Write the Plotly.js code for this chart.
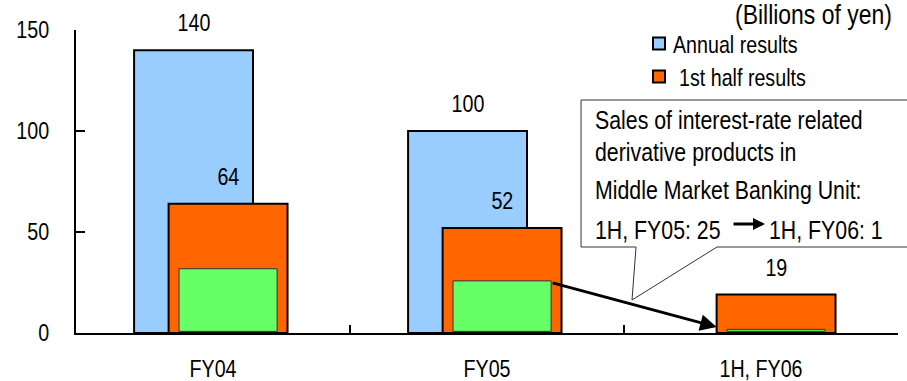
<!DOCTYPE html>
<html>
<head>
<meta charset="utf-8">
<script src="https://cdn.plot.ly/plotly-3.0.1.min.js"></script>
<style>
  html, body { margin: 0; padding: 0; background: #fff; }
  #chart { width: 907px; height: 381px; }
</style>
</head>
<body>
<div id="chart"></div>
<script>
// Fiscal periods on the category axis
const categories = ['FY04', 'FY05', '1H, FY06'];
// Billions of yen
const annualResults = [140, 100, null];
const firstHalfResults = [64, 52, 19];
// Interest-rate derivative sales, Middle Market Banking Unit
const derivativeSales = [31, 25, 1];
const yTickValues = [0, 50, 100, 150];

const FONT = "Arial, 'Liberation Sans', sans-serif";
// horizontal squeeze applied to every text, giving a narrow face
const NARROW = 0.82;

// bar geometry (category units)
const BAR_W = 0.434, ANNUAL_OFF = -0.288, HALF_OFF = -0.162;
const INNER_W = 0.358, INNER_OFF = -0.124;

// plot area in pixels, used to place free-floating notes
const L = 76, R = 898, T = 30, B = 333;
const px = x => (x - L) / (R - L);
const py = y => (B - y) / (B - T);

const traces = [
  {
    type: 'bar', name: 'Annual results', x: categories, y: annualResults,
    width: BAR_W, offset: ANNUAL_OFF, legend: 'legend',
    marker: { color: '#99CCFF', line: { color: '#000', width: 2 } },
    hoverinfo: 'skip'
  },
  {
    type: 'bar', name: '1st half results', x: categories, y: firstHalfResults,
    width: BAR_W, offset: HALF_OFF, legend: 'legend2',
    marker: { color: '#FF6600', line: { color: '#000', width: 2 } },
    hoverinfo: 'skip'
  },
  {
    type: 'bar', name: 'Derivative sales', x: categories, y: derivativeSales,
    base: 0.8, width: INNER_W, offset: INNER_OFF, showlegend: false,
    marker: { color: '#66FF66', line: { color: '#333', width: 1 } },
    hoverinfo: 'skip'
  }
];

const annotations = [];
categories.forEach((c, i) => {
  if (annualResults[i] != null) {
    annotations.push({
      xref: 'x', yref: 'y', x: i + ANNUAL_OFF + BAR_W / 2, y: annualResults[i],
      text: String(annualResults[i]), showarrow: false,
      yanchor: 'middle', yshift: 28, font: { family: FONT, size: 24, color: '#000' }
    });
  }
  annotations.push({
    xref: 'x', yref: 'y', x: i + HALF_OFF + BAR_W / 2, y: firstHalfResults[i],
    text: String(firstHalfResults[i]), showarrow: false,
    yanchor: 'middle', yshift: 27, font: { family: FONT, size: 24, color: '#000' }
  });
});

// arrow from the FY05 derivative bar to the 1H FY06 one
annotations.push({
  xref: 'x', yref: 'y', x: 2 + HALF_OFF, y: derivativeSales[2] + 2,
  axref: 'x', ayref: 'y', ax: 1 + INNER_OFF + INNER_W, ay: derivativeSales[1],
  text: '', showarrow: true, arrowhead: 2, arrowsize: 1.1, arrowwidth: 3,
  arrowcolor: '#000', standoff: 0
});

// unit note
annotations.push({
  xref: 'paper', yref: 'paper', x: px(733), y: py(15), xanchor: 'left', yanchor: 'middle',
  align: 'left', text: '(Billions of yen)', showarrow: false,
  font: { family: FONT, size: 28, color: '#000' }
});

// callout text
const noteLines = [
  ['Sales of interest-rate related', 593, 120],
  ['derivative products in', 593, 152],
  ['Middle Market Banking Unit:', 593, 190],
  ['1H, FY05: ' + derivativeSales[1], 593, 230],
  ['1H, FY06: ' + derivativeSales[2], 767, 230]
];
noteLines.forEach(([t, x, y]) => annotations.push({
  xref: 'paper', yref: 'paper', x: px(x), y: py(y), xanchor: 'left', yanchor: 'middle',
  align: 'left', text: t, showarrow: false, font: { family: FONT, size: 26, color: '#000' }
}));
annotations.push({
  xref: 'paper', yref: 'paper', x: px(765), y: py(224),
  ax: -33, ay: 0, text: '', showarrow: true, arrowhead: 2, arrowsize: 0.8,
  arrowwidth: 3, arrowcolor: '#000', standoff: 0
});

// speech-bubble outline of the callout
const bubble = [
  [581, 100], [912, 100], [912, 247], [717, 247], [632, 300], [636, 247], [581, 247]
].map((p, k) => (k ? 'L' : 'M') + px(p[0]).toFixed(4) + ',' + py(p[1]).toFixed(4)).join(' ') + ' Z';

const legendBase = {
  x: px(639), xanchor: 'left', yanchor: 'middle',
  bgcolor: 'rgba(0,0,0,0)', font: { family: FONT, size: 24, color: '#000' }
};

const layout = {
  width: 907, height: 381,
  margin: { l: L, r: 907 - R, t: T, b: 381 - B, pad: 0 },
  paper_bgcolor: '#fff', plot_bgcolor: '#fff',
  font: { family: FONT, size: 24, color: '#000' },
  barmode: 'overlay',
  showlegend: true,
  legend: Object.assign({ y: py(44) }, legendBase),
  legend2: Object.assign({ y: py(77) }, legendBase),
  xaxis: {
    type: 'category', range: [-0.5, 2.5], fixedrange: true,
    showline: true, linecolor: '#000', linewidth: 2,
    ticks: 'inside', tickson: 'boundaries', ticklen: 8, tickwidth: 2, tickcolor: '#000',
    ticklabelstandoff: 13, showgrid: false, zeroline: false,
    tickfont: { family: FONT, size: 24, color: '#000' }
  },
  yaxis: {
    range: [0, 150], tickvals: yTickValues, fixedrange: true,
    showline: true, linecolor: '#000', linewidth: 2,
    ticks: 'inside', ticklen: 9, tickwidth: 2, tickcolor: '#000',
    ticklabelstandoff: 20, showgrid: false, zeroline: false,
    tickfont: { family: FONT, size: 24, color: '#000' }
  },
  shapes: [{
    type: 'path', xref: 'paper', yref: 'paper', path: bubble,
    fillcolor: '#fff', line: { color: '#333', width: 1 }, layer: 'above'
  }],
  annotations: annotations
};

// squeeze each text horizontally about its own anchor point
function condenseText(gd) {
  gd.querySelectorAll('.main-svg text').forEach(t => {
    if (t.classList.contains('legendtext')) {
      t.setAttribute('x', (parseFloat(t.getAttribute('x')) || 0) - 6);
    }
    const ax = parseFloat(t.getAttribute('x')) || 0;
    const prev = t.getAttribute('transform') || '';
    t.setAttribute('transform',
      (prev + ' translate(' + ax + ',0) scale(' + NARROW + ',1) translate(' + (-ax) + ',0)').trim());
  });
}

const gd = document.getElementById('chart');
Plotly.newPlot(gd, traces, layout, { displayModeBar: false, staticPlot: true })
  .then(() => condenseText(gd));
</script>
</body>
</html>
